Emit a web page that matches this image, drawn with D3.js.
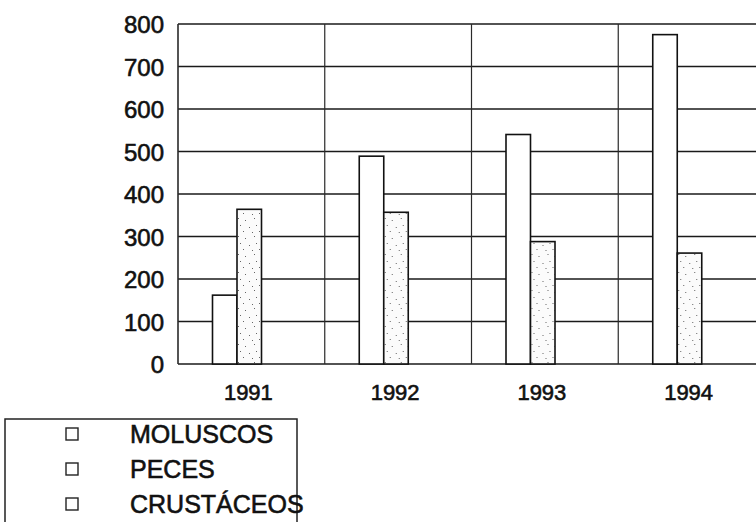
<!DOCTYPE html>
<html>
<head>
<meta charset="utf-8">
<script src="https://cdn.jsdelivr.net/npm/d3@7"></script>
<style>
  body { margin: 0; background: #fff; }
  text { font-family: "Liberation Sans", Arial, sans-serif; fill: #111; stroke: #111; stroke-width: 0.6px; }
</style>
</head>
<body>
<div id="vis-holder"></div>
<script>
// data
const years = ["1991", "1992", "1993", "1994"];
const series = ["MOLUSCOS", "PECES", "CRUSTÁCEOS"];
const moluscos = [162, 489, 540, 775];
const peces = [364, 357, 288, 261];
const crustaceos = [0, 0, 0, 0];
const yTicks = [0, 100, 200, 300, 400, 500, 600, 700, 800];

const width = 756, height = 522;

const svg = d3.select("#vis-holder")
    .append("svg")
    .attr("width", width)
    .attr("height", height);

// stipple fill for the second series (sparse dots, like the scan)
const defs = svg.append("defs");
const pat = defs.append("pattern")
    .attr("id", "stipple")
    .attr("patternUnits", "userSpaceOnUse")
    .attr("width", 16).attr("height", 18);
pat.append("rect").attr("width", 16).attr("height", 18).attr("fill", "#fbfbfb");
[[3, 4], [12, 2], [7, 11], [14, 9], [1, 15], [10, 16]].forEach(function (p) {
    pat.append("rect").attr("x", p[0]).attr("y", p[1])
        .attr("width", 1).attr("height", 1).attr("fill", "#666");
});

// plot runs past the right edge of the page, like the scan
const x0 = d3.scaleBand().domain(years).range([178, 765]).padding(0);
const x1 = d3.scaleBand().domain(series).range([34.5, 108]).padding(0);
const y = d3.scaleLinear().domain([0, 800]).range([364, 24]);

const fills = { "MOLUSCOS": "#fff", "PECES": "url(#stipple)", "CRUSTÁCEOS": "#fff" };
const values = { "MOLUSCOS": moluscos, "PECES": peces, "CRUSTÁCEOS": crustaceos };

// horizontal grid
svg.append("g")
    .selectAll("line")
    .data(yTicks)
    .enter().append("line")
    .attr("x1", 178).attr("x2", width)
    .attr("y1", d => y(d)).attr("y2", d => y(d))
    .attr("stroke", "#1a1a1a")
    .attr("stroke-width", 1.7);

// vertical grid at the category borders
svg.append("g")
    .selectAll("line")
    .data(years)
    .enter().append("line")
    .attr("x1", d => x0(d)).attr("x2", d => x0(d))
    .attr("y1", y(800)).attr("y2", y(0))
    .attr("stroke", "#2a2a2a")
    .attr("stroke-width", d => d === years[0] ? 1.6 : 1.2);

// bars
const groups = svg.append("g")
    .selectAll("g")
    .data(years)
    .enter().append("g")
    .attr("transform", d => "translate(" + x0(d) + ",0)");

groups.selectAll("rect")
    .data((d, i) => series.map(s => ({ key: s, value: values[s][i] })))
    .enter().append("rect")
    .filter(d => d.value > 0)
    .attr("x", d => x1(d.key))
    .attr("y", d => y(d.value))
    .attr("width", x1.bandwidth())
    .attr("height", d => y(0) - y(d.value))
    .attr("fill", d => fills[d.key])
    .attr("stroke", "#111")
    .attr("stroke-width", 1.6);

// y tick labels
svg.append("g")
    .selectAll("text")
    .data(yTicks)
    .enter().append("text")
    .attr("x", 164)
    .attr("y", d => y(d) + 9)
    .attr("text-anchor", "end")
    .style("font-size", "24px")
    .text(d => d);

// category labels
svg.append("g")
    .selectAll("text")
    .data(years)
    .enter().append("text")
    .attr("x", d => x0(d) + x0.bandwidth() / 2 - 3)
    .attr("y", 400)
    .attr("text-anchor", "middle")
    .style("font-size", "22px")
    .text(d => d);

// legend, box is cut by the bottom of the page
const legend = svg.append("g");
legend.append("rect")
    .attr("x", 5).attr("y", 419)
    .attr("width", 292).attr("height", 130)
    .attr("fill", "none")
    .attr("stroke", "#222")
    .attr("stroke-width", 1.5);

const rows = legend.selectAll("g.row")
    .data(series)
    .enter().append("g")
    .attr("class", "row")
    .attr("transform", (d, i) => "translate(0," + (434 + i * 35) + ")");

rows.append("rect")
    .attr("x", 66).attr("y", -6)
    .attr("width", 12).attr("height", 12)
    .attr("fill", "#fff")
    .attr("stroke", "#222")
    .attr("stroke-width", 1.4);

rows.append("text")
    .attr("x", 130)
    .attr("y", 9)
    .style("font-size", "25px")
    .text(d => d);
</script>
</body>
</html>
